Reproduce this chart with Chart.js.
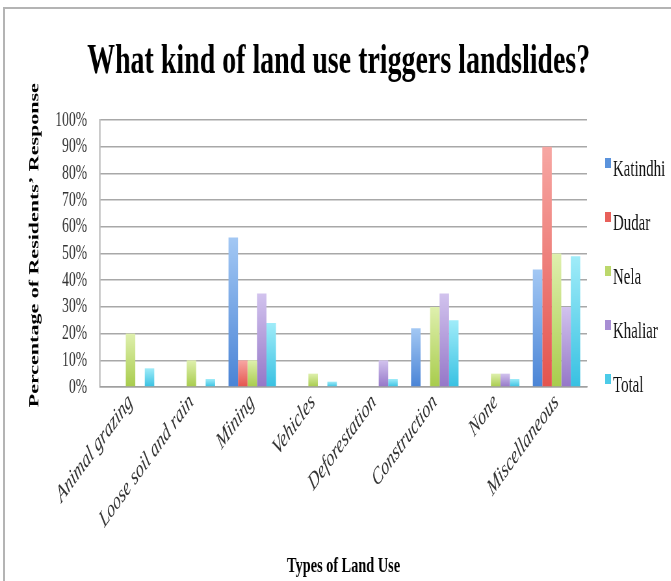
<!DOCTYPE html>
<html>
<head>
<meta charset="utf-8">
<script src="https://cdn.jsdelivr.net/npm/chart.js@4/dist/chart.umd.min.js"></script>
<style>
  html, body { margin: 0; padding: 0; background: #fff; overflow: hidden; }
  #moldura { position: absolute; left: 3px; top: 7px; width: 720px; height: 620px;
             border-left: 2px solid #b4b4b4; border-top: 2px solid #b4b4b4; }
  /* o gráfico é desenhado largo e depois estreitado na horizontal */
  #estreito { position: absolute; left: 0; top: 0; width: 1032px; height: 581px;
              transform: scaleX(0.65); transform-origin: 0 0; }
</style>
</head>
<body>
<div id="moldura"></div>
<div id="estreito"><canvas id="grafico" width="1032" height="581"></canvas></div>
<script>
// USO DO SOLO x DESLIZAMENTOS
const titulo = 'What kind of land use triggers landslides?'

const categorias = [
    'Animal grazing',
    'Loose soil and rain',
    'Mining',
    'Vehicles',
    'Deforestation',
    'Construction',
    'None',
    'Miscellaneous'
]

const katindhi = [0, 0, 56, 0, 0, 22, 0, 44]
const dudar    = [0, 0, 10, 0, 0, 0, 0, 90]
const nela     = [20, 10, 10, 5, 0, 30, 5, 50]
const khaliar  = [0, 0, 35, 0, 10, 35, 5, 30]
const total    = [7, 3, 24, 2, 3, 25, 3, 49]

const marcas_y = [0, 10, 20, 30, 40, 50, 60, 70, 80, 90, 100]

const serif = "'Liberation Serif', 'Times New Roman', serif"

// cada barra clareia de baixo para cima
function degrade(claro, escuro) {
    return (ctx) => {
        const chart = ctx.chart
        const y = chart.scales.y
        if (ctx.type !== 'data' || !y || !chart.chartArea) return escuro
        const topo = y.getPixelForValue(ctx.raw)
        const base = y.getPixelForValue(0)
        if (!(base > topo)) return escuro
        const g = chart.ctx.createLinearGradient(0, topo, 0, base)
        g.addColorStop(0, claro)
        g.addColorStop(1, escuro)
        return g
    }
}

function serie(nome, valores, claro, escuro, meio) {
    return {
        label: nome,
        data: valores,
        backgroundColor: degrade(claro, escuro),
        corLegenda: meio,
        borderWidth: 0
    }
}

const data = {
    labels: categorias,
    datasets: [
        serie('Katindhi', katindhi, '#a3c8f4', '#4a84d6', '#5b93dc'),
        serie('Dudar', dudar, '#f7a7a3', '#e4544e', '#e8605a'),
        serie('Nela', nela, '#dff0ae', '#a8cc4c', '#bcd86c'),
        serie('Khaliar', khaliar, '#d2c3ee', '#9577c8', '#a88ed4'),
        serie('Total', total, '#a0ecf9', '#38c1e2', '#4ccbe8')
    ]
}

// título centrado na largura toda e legenda à direita (um item a cada 54px)
const cabecalho_legenda = {
    id: 'cabecalho_legenda',
    afterDraw(chart) {
        const ctx = chart.ctx
        ctx.save()

        ctx.font = 'bold 43px ' + serif
        ctx.fillStyle = '#000'
        ctx.textAlign = 'center'
        ctx.textBaseline = 'middle'
        ctx.fillText(titulo, 521, 62)

        const x = chart.chartArea.right + 28
        ctx.font = '23px ' + serif
        ctx.textAlign = 'left'
        ctx.textBaseline = 'alphabetic'
        chart.data.datasets.forEach((ds, i) => {
            const base = 176 + i * 54
            ctx.fillStyle = ds.corLegenda
            ctx.fillRect(x, base - 18, 9, 10)
            ctx.fillStyle = '#111'
            ctx.fillText(ds.label, x + 12, base)
        })
        ctx.restore()
    }
}

const config = {
    type: 'bar',
    data,
    plugins: [cabecalho_legenda],
    options: {
        responsive: false,
        animation: false,
        devicePixelRatio: 1,
        layout: { padding: { top: 120, right: 129 } },
        datasets: { bar: { barPercentage: 1, categoryPercentage: 0.78 } },
        plugins: {
            title: { display: false },
            legend: { display: false },
            tooltip: { enabled: false }
        },
        scales: {
            x: {
                grid: { display: false, drawTicks: false },
                border: { display: true, color: '#a0a0a0', width: 1.5 },
                ticks: {
                    autoSkip: false,
                    minRotation: 42,
                    maxRotation: 42,
                    padding: 1,
                    color: '#333',
                    font: { family: serif, size: 24, style: 'italic' }
                },
                title: {
                    display: true,
                    text: 'Types of Land Use',
                    color: '#000',
                    font: { family: serif, size: 22, weight: 'bold' },
                    padding: { top: 0, bottom: 1 }
                },
                afterFit: (s) => { s.height = 194 }
            },
            y: {
                min: 0,
                max: 100,
                afterBuildTicks: (s) => { s.ticks = marcas_y.map(v => ({ value: v })) },
                grid: { color: '#a8a8a8', lineWidth: 1.5, drawTicks: false },
                border: { display: true, color: '#a0a0a0', width: 1.5 },
                ticks: {
                    autoSkip: false,
                    padding: 20,
                    color: '#333',
                    font: { family: serif, size: 21 },
                    callback: (v) => v + '%'
                },
                title: {
                    display: true,
                    // espaços à frente sobem um pouco o texto girado
                    text: '   Percentage of Residents’ Response',
                    color: '#000',
                    font: { family: serif, size: 22, weight: 'bold' },
                    padding: { top: 40, bottom: 0 }
                },
                afterFit: (s) => { s.width = 154 }
            }
        }
    }
}

const grafico = new Chart(document.getElementById('grafico'), config)
</script>
</body>
</html>
